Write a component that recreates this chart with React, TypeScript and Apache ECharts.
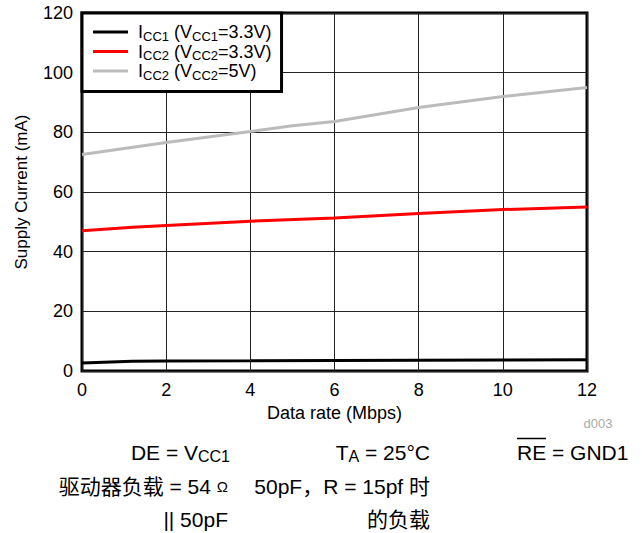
import React, { useEffect, useRef } from "react";
import * as echarts from "echarts";

const xTicks = [0, 2, 4, 6, 8, 10, 12];
const icc1X = [0, 1.2, 2, 4, 6, 8, 10, 12];
const icc1Y = [2.7, 3.3, 3.35, 3.4, 3.5, 3.6, 3.7, 3.8];
const icc2X = [0, 1.2, 2, 4, 6, 8, 10, 12];
const icc2Y = [47, 48.2, 48.8, 50.2, 51.3, 52.8, 54.1, 55];
const icc25X = [0, 2, 4, 5, 6, 7, 8, 10, 12];
const icc25Y = [72.6, 76.6, 80.3, 82.2, 83.6, 86, 88.3, 92, 95];

const FONT = "'Liberation Sans', Arial, Helvetica, sans-serif";
const CJK = "'Liberation Sans', 'Noto Sans CJK SC', sans-serif";

const pair = (xs: number[], ys: number[]) => xs.map((x, i) => [x, ys[i]]);

const legendNames: Record<string, string> = {
  a: "{m|I}{s|CC1}{m| (V}{s|CC1}{m|=3.3V)}",
  b: "{m|I}{s|CC2}{m| (V}{s|CC2}{m|=3.3V)}",
  c: "{m|I}{s|CC2}{m| (V}{s|CC2}{m|=5V)}",
};

const richLegend = {
  m: { fontSize: 18, lineHeight: 21, fontFamily: FONT, color: "#000" },
  s: { fontSize: 13, lineHeight: 9, verticalAlign: "bottom", fontFamily: FONT, color: "#000" },
};

const richNote = {
  m: { fontSize: 21, lineHeight: 24, fontFamily: FONT, color: "#000" },
  s: { fontSize: 16, lineHeight: 10, verticalAlign: "bottom", fontFamily: FONT, color: "#000" },
  w: { fontSize: 15, lineHeight: 24, fontFamily: FONT, color: "#000" },
  c: { fontSize: 21, lineHeight: 24, fontFamily: CJK, color: "#000" },
};

export default function App() {
  const ref = useRef<HTMLDivElement>(null);
  useEffect(() => {
    if (!ref.current) return;
    const chart = echarts.init(ref.current, undefined, { renderer: "svg" });
    const txt = (x: number, y: number, text: string, align: string) => ({
      type: "text",
      x,
      y,
      z: 100,
      style: {
        text,
        rich: richNote,
        align,
        verticalAlign: "middle",
        fill: "#000",
        font: `21px ${CJK}`,
      },
    });
    chart.setOption({
      animation: false,
      backgroundColor: "#fff",
      grid: {
        left: 82,
        right: 55,
        top: 13,
        bottom: 162,
        show: true,
        borderColor: "#000",
        borderWidth: 3,
        backgroundColor: "transparent",
      },
      xAxis: {
        type: "value",
        min: 0,
        max: 12,
        interval: 2,
        axisLine: { show: false },
        axisTick: { show: false },
        splitLine: { show: true, lineStyle: { color: "#222", width: 1 } },
        axisLabel: {
          margin: 10,
          fontSize: 18,
          fontFamily: FONT,
          color: "#000",
          customValues: xTicks,
        },
        name: "Data rate (Mbps)",
        nameLocation: "middle",
        nameGap: 31,
        nameTextStyle: { fontSize: 18, fontFamily: FONT, color: "#000" },
      },
      yAxis: {
        type: "value",
        min: 0,
        max: 120,
        interval: 20,
        axisLine: { show: false },
        axisTick: { show: false },
        splitLine: { show: true, lineStyle: { color: "#222", width: 1 } },
        axisLabel: { margin: 9, fontSize: 18, fontFamily: FONT, color: "#000" },
        name: "Supply Current (mA)",
        nameLocation: "middle",
        nameGap: 52,
        nameTextStyle: { fontSize: 17, fontFamily: FONT, color: "#000" },
      },
      legend: {
        left: 82,
        top: 13,
        orient: "vertical",
        backgroundColor: "#fff",
        borderColor: "#000",
        borderWidth: 3,
        borderRadius: 0,
        padding: [10, 10, 10, 11],
        itemWidth: 35,
        itemHeight: 3,
        itemGap: 0,
        icon: "rect",
        z: 10,
        formatter: (n: string) => legendNames[n],
        textStyle: { rich: richLegend, padding: [0, 0, 0, 5] },
        data: ["a", "b", "c"],
      },
      series: [
        {
          name: "a",
          type: "line",
          data: pair(icc1X, icc1Y),
          symbol: "none",
          lineStyle: { color: "#000", width: 3 },
          itemStyle: { color: "#000" },
        },
        {
          name: "b",
          type: "line",
          data: pair(icc2X, icc2Y),
          symbol: "none",
          lineStyle: { color: "#ff0000", width: 3 },
          itemStyle: { color: "#ff0000" },
        },
        {
          name: "c",
          type: "line",
          data: pair(icc25X, icc25Y),
          symbol: "none",
          lineStyle: { color: "#bbbbbb", width: 3 },
          itemStyle: { color: "#bbbbbb" },
        },
      ],
      graphic: [
        {
          type: "text",
          x: 598,
          y: 423,
          style: {
            text: "d003",
            font: `13px ${FONT}`,
            fill: "#aaaaaa",
            align: "center",
            verticalAlign: "middle",
          },
        },
        txt(230, 452, "{m|DE = V}{s|CC1}", "right"),
        txt(430, 452, "{m|T}{s|A}{m| = 25°C}", "right"),
        txt(517, 452, "{m|RE = GND1}", "left"),
        {
          type: "line",
          shape: { x1: 517, y1: 438.5, x2: 546, y2: 438.5 },
          style: { stroke: "#000", lineWidth: 1.5 },
        },
        txt(228, 486, "{c|驱动器负载 = 54 }{w|Ω}", "right"),
        txt(430, 486, "{c|50pF，R = 15pf 时}", "right"),
        txt(228, 519, "{m||| 50pF}", "right"),
        txt(430, 519, "{c|的负载}", "right"),
      ],
    });
    return () => chart.dispose();
  }, []);
  return (
    <div
      ref={ref}
      style={{ position: "fixed", left: 0, top: 0, width: 642, height: 533 }}
    />
  );
}
